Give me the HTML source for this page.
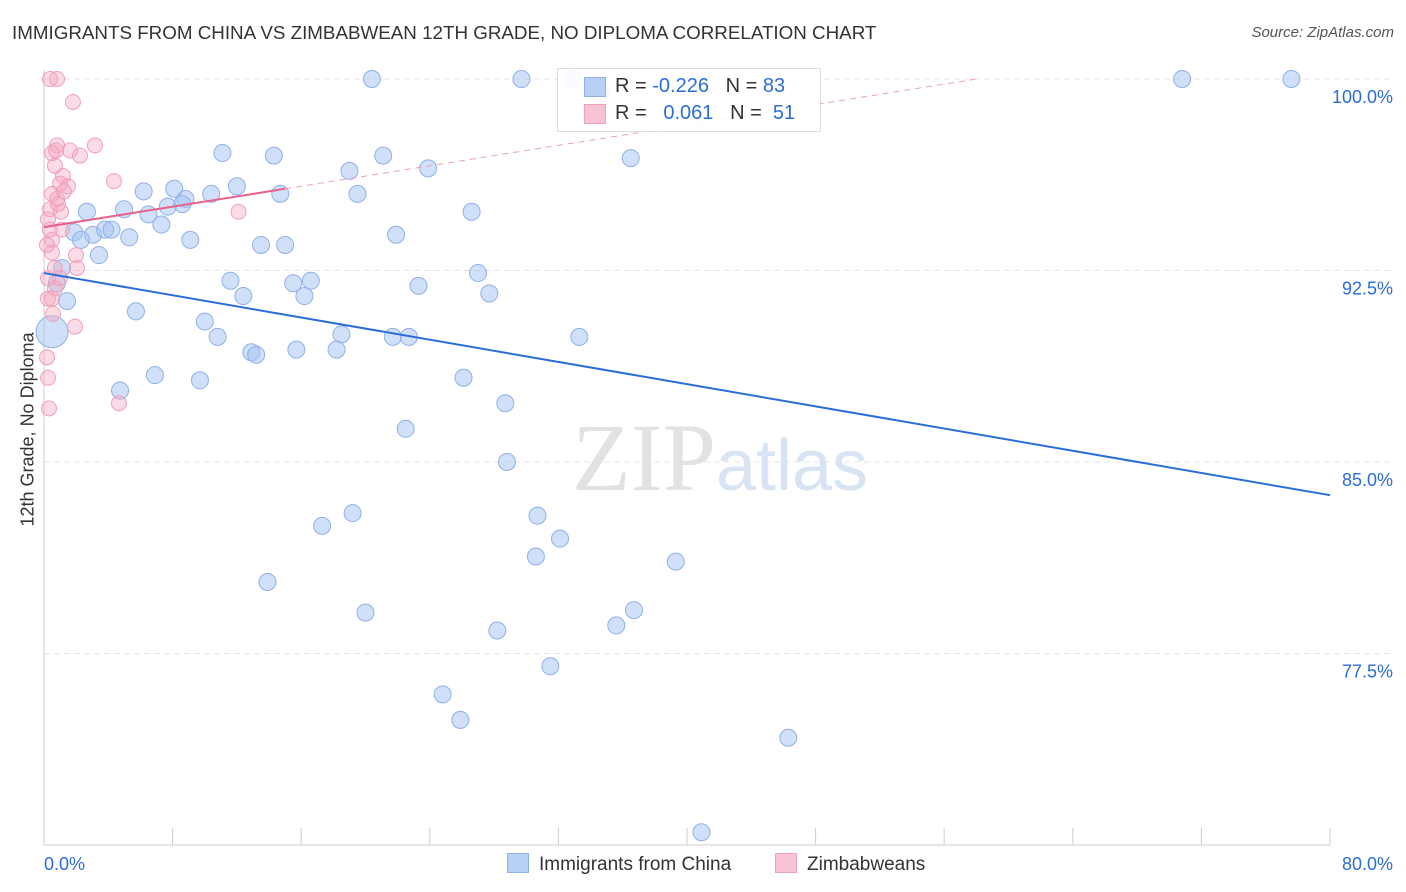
<!DOCTYPE html>
<html><head><meta charset="utf-8"><style>
body{margin:0;background:#fff;font-family:"Liberation Sans",sans-serif;}
#wrap{position:relative;width:1406px;height:892px;overflow:hidden;}
.t{position:absolute;white-space:nowrap;}
</style></head><body>
<div id="wrap">
<div class="t" style="left:12px;top:22px;font-size:18.8px;color:#333;">IMMIGRANTS FROM CHINA VS ZIMBABWEAN 12TH GRADE, NO DIPLOMA CORRELATION CHART</div>
<div class="t" style="right:12px;top:24px;font-size:15px;color:#555;font-style:italic;">Source: ZipAtlas.com</div>
<div class="t" style="left:-42px;top:446px;font-size:18px;color:#333;transform:rotate(-90deg);transform-origin:center;width:140px;text-align:center;">12th Grade, No Diploma</div>
<svg id="plot" width="1406" height="892" style="position:absolute;left:0;top:0"></svg>
<div class="t" style="left:557px;top:68px;width:262px;height:62px;border:1px solid #ddd;background:rgba(255,255,255,0.9);font-size:20px;">
 <div style="position:absolute;left:26px;top:8px;width:20px;height:18px;background:#b8d0f4;border:1px solid #8fb0e8"></div>
 <div style="position:absolute;left:26px;top:35px;width:20px;height:18px;background:#f8c4d4;border:1px solid #f0a0b8"></div>
 <div style="position:absolute;left:57px;top:6px;color:#333">R = <span style="color:#2a6dd8">-0.226</span>&nbsp;&nbsp;&nbsp;N = <span style="color:#2a6dd8">83</span></div>
 <div style="position:absolute;left:57px;top:33px;color:#333">R = &nbsp;&nbsp;<span style="color:#2a6dd8">0.061</span>&nbsp;&nbsp;&nbsp;N = &nbsp;<span style="color:#2a6dd8">51</span></div>
</div>
<div class="t" style="left:507px;top:853px;font-size:19px;color:#333;"><span style="display:inline-block;width:20px;height:18px;background:#b8d0f4;border:1px solid #8fb0e8;vertical-align:-3px;margin-right:10px"></span>Immigrants from China</div>
<div class="t" style="left:775px;top:853px;font-size:19px;color:#333;"><span style="display:inline-block;width:20px;height:18px;background:#f8c4d4;border:1px solid #f0a0b8;vertical-align:-3px;margin-right:10px"></span>Zimbabweans</div>
</div>
<script>
const yTicks=[100,92.5,85,77.5];
const xTickLabels=["0.0%","80.0%"];
const chinaX=[20.4,29.7,32.9,70.8,77.6,34.6,11.1,14.3,21.1,36.5,19.0,23.9,6.2,8.1,12.0,14.7,19.5,10.4,8.8,8.6,7.7,4.98,2.67,6.5,26.6,7.3,1.87,3.05,3.8,4.2,5.3,2.3,9.1,13.5,15.0,21.9,3.42,1.12,27.0,11.6,15.5,16.6,23.3,12.4,16.2,27.7,1.43,5.72,10.0,10.8,18.5,21.7,22.7,33.3,12.9,13.2,15.7,18.2,6.9,9.7,26.1,4.73,28.7,22.5,28.8,19.2,17.3,30.7,32.1,30.6,39.3,13.9,20.0,36.7,28.2,35.6,31.5,24.8,25.9,46.3,40.9,0.5,0.8];
const chinaY=[100,100,100,100,100,99.4,97.1,97.0,97.0,96.9,96.4,96.5,95.6,95.7,95.8,95.5,95.5,95.5,95.3,95.1,95.0,94.9,94.8,94.7,94.8,94.3,94.0,93.9,94.1,94.1,93.8,93.7,93.7,93.5,93.5,93.9,93.1,92.6,92.4,92.1,92.0,92.1,91.9,91.5,91.5,91.6,91.3,90.9,90.5,89.9,90.0,89.9,89.9,89.9,89.3,89.2,89.4,89.4,88.4,88.2,88.3,87.8,87.3,86.3,85.0,83.0,82.5,82.9,82.0,81.3,81.1,80.3,79.1,79.2,78.4,78.6,77.0,75.9,74.9,74.2,70.5,90.1,92.0];
const zimX=[0.37,0.81,1.8,3.17,0.81,1.62,2.24,0.5,0.68,1.18,4.35,1.0,1.49,0.5,0.81,1.06,12.1,0.37,0.25,1.12,0.5,0.19,1.99,0.5,2.05,0.25,0.68,0.25,0.56,1.93,0.19,0.25,4.66,0.31,0.75,1.24,0.87,0.37,0.68,0.99,0.5];
const zimY=[100,100,99.1,97.4,97.4,97.2,97.0,97.1,96.6,96.2,96.0,95.9,95.8,95.5,95.3,94.8,94.8,94.9,94.5,94.1,93.7,93.5,93.1,93.2,92.6,92.2,91.8,91.4,90.8,90.3,89.1,88.3,87.3,87.1,97.2,95.6,95.1,94.1,92.6,92.2,91.4];
const chinaTrend=[92.4,83.7];
const zimTrend=[94.2,95.7];
const X0=44,X1=1330,YT=79,PX=191.5/7.5;
const xs=v=>X0+(v/80)*(X1-X0);
const ys=v=>YT+(100-v)*PX;
const svg=document.getElementById('plot');
const NS='http://www.w3.org/2000/svg';
function mk(tag,attrs){const e=document.createElementNS(NS,tag);for(const k in attrs)e.setAttribute(k,attrs[k]);svg.appendChild(e);return e;}
yTicks.forEach(t=>{
 const g=mk('line',{x1:X0,x2:1390,y1:ys(t),y2:ys(t),stroke:'#e4e4e4','stroke-dasharray':'6,4'});
 
 
 const tx=mk('text',{x:1393,y:ys(t)+24,'text-anchor':'end','font-size':18,fill:'#2a6dd8','font-family':'Liberation Sans'});
 tx.textContent=t.toFixed(1)+'%';
 
 
});
const ax=mk('line',{x1:X0,x2:X1,y1:845,y2:845,stroke:'#ccc'});


const ay=mk('line',{x1:X0,x2:X0,y1:70,y2:845,stroke:'#ccc'});


for(let i=0;i<=10;i++){
 const tk=mk('line',{x1:xs(i*8),x2:xs(i*8),y1:828,y2:845,stroke:'#ccc'});
 
 
}
[[0,'start',xs(0)],[1,'end',1393]].forEach(([i,a,x])=>{
 const tx=mk('text',{x:x,y:870,'text-anchor':a,'font-size':18,fill:'#2a6dd8','font-family':'Liberation Sans'});
 tx.textContent=xTickLabels[i];
 
 
});
const wm=mk('text',{x:720,y:490,'text-anchor':'middle','font-size':96,fill:'#e2e2e2','font-family':'Liberation Serif'});
wm.innerHTML='ZIP<tspan fill="#d8e4f4" font-family="Liberation Sans" font-size="72">atlas</tspan>';


chinaX.forEach((v,i)=>{
 const c=mk('circle',{cx:xs(v),cy:ys(chinaY[i]),r:i==81?16:8.5,fill:'rgba(164,194,244,0.5)',stroke:'#8fb0e8','stroke-width':1});
 
 
});
zimX.forEach((v,i)=>{
 const c=mk('circle',{cx:xs(v),cy:ys(zimY[i]),r:7.5,fill:'rgba(244,164,190,0.4)',stroke:'#f0a0b8','stroke-width':1});
 
 
});
const l1=mk('line',{x1:xs(0),y1:ys(chinaTrend[0]),x2:xs(80),y2:ys(chinaTrend[1]),stroke:'#2a6dd8','stroke-width':2});


const zs=(zimTrend[1]-zimTrend[0])/15;
const l2=mk('line',{x1:xs(0),y1:ys(zimTrend[0]),x2:xs(15),y2:ys(zimTrend[1]),stroke:'#e8608a','stroke-width':2});


const xe=(100-zimTrend[0])/zs;
const l3=mk('line',{x1:xs(15),y1:ys(zimTrend[1]),x2:xs(xe),y2:ys(100),stroke:'#e8a0b8','stroke-width':1,'stroke-dasharray':'6,5'});


</script>
</body></html>
